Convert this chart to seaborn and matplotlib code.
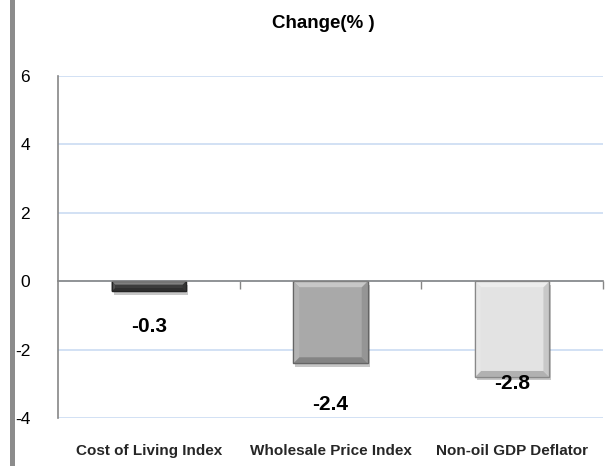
import matplotlib
matplotlib.use("Agg")
import matplotlib.pyplot as plt
import matplotlib.patheffects as pe
from matplotlib.patches import Polygon, Rectangle
from matplotlib.colors import to_rgb
import pandas as pd
import seaborn as sns

# Price indicators and their percentage change
categories = ["Cost of Living Index", "Wholesale Price Index", "Non-oil GDP Deflator"]
changes = [-0.3, -2.4, -2.8]
value_labels = ["-0.3", "-2.4", "-2.8"]
bar_colors = ["#3c3c3c", "#a9a9a9", "#e3e3e3"]
y_ticks = [-4, -2, 0, 2, 4, 6]

# Vertical distance (points) from each bar end to its value label
label_gap_pt = [25, 29.5, 5]

sns.set_theme(style="white")
plt.rcParams["font.family"] = ["Liberation Sans", "DejaVu Sans"]

fig = plt.figure(figsize=(6.05, 4.66), dpi=100)
fig.patch.set_facecolor("white")
ax = fig.add_axes([58 / 605, 1 - 418 / 466, 545 / 605, 342 / 466])

df = pd.DataFrame({"category": categories, "change": changes})
sns.barplot(data=df, x="category", y="change", hue="category",
            palette=bar_colors, width=0.41, legend=False, ax=ax,
            saturation=1, zorder=3)

ax.set_xlim(-0.5, len(categories) - 0.5)
ax.set_ylim(-4, 6)
ax.set_xlabel("")
ax.set_ylabel("")

# light blue horizontal gridlines
ax.set_yticks(y_ticks)
ax.set_yticklabels([str(t) for t in y_ticks], fontsize=12.5, color="black")
ax.yaxis.grid(True, color="#c6d9f1", lw=1.1, zorder=0)
ax.xaxis.grid(False)
ax.tick_params(axis="y", which="major", direction="out", length=7, width=1,
               color="#868686", pad=13, labelsize=12.5)

for side in ["top", "right"]:
    ax.spines[side].set_visible(False)
ax.spines["left"].set_color("#868686")
ax.spines["left"].set_linewidth(1.2)

# category axis drawn through zero with tick marks between categories
ax.spines["bottom"].set_position(("data", 0))
ax.spines["bottom"].set_color("#868686")
ax.spines["bottom"].set_linewidth(1.2)
ax.spines["bottom"].set_zorder(4)
ax.set_xticks([i + 0.5 for i in range(len(categories))], minor=True)
ax.set_xticks(range(len(categories)))
ax.set_xticklabels([])
ax.tick_params(axis="x", which="major", length=0)
ax.tick_params(axis="x", which="minor", direction="out", length=6, width=1,
               color="#868686", bottom=True)

# category names below the plotting area
sec = ax.secondary_xaxis("bottom")
sec.set_xticks(range(len(categories)))
sec.set_xticklabels(categories, fontsize=11, fontweight="bold")
sec.tick_params(length=0, pad=19)
sec.spines["bottom"].set_visible(False)


def shade(color, amount):
    r, g, b = to_rgb(color)
    if amount >= 0:
        return (r + (1 - r) * amount, g + (1 - g) * amount, b + (1 - b) * amount)
    k = 1 + amount
    return (r * k, g * k, b * k)


# bevelled bars with a soft drop shadow
fig.canvas.draw()
to_px = ax.transData
to_data = ax.transData.inverted()
for patch, color in zip(ax.patches, bar_colors):
    patch.set_edgecolor(shade(color, -0.35))
    patch.set_linewidth(0.9)
    patch.set_path_effects([
        pe.SimplePatchShadow(offset=(1.5, -2.5), shadow_rgbFace="black", alpha=0.22),
        pe.Normal(),
    ])
    bb = patch.get_bbox()
    x0, x1 = sorted([bb.x0, bb.x1])
    y0, y1 = sorted([bb.y0, bb.y1])
    (px0, py0), (px1, py1) = to_px.transform([(x0, y0), (x1, y1)])
    b = min(6.0, (py1 - py0) / 3.0, (px1 - px0) / 6.0)
    outer = [(px0, py0), (px1, py0), (px1, py1), (px0, py1)]
    inner = [(px0 + b, py0 + b), (px1 - b, py0 + b), (px1 - b, py1 - b), (px0 + b, py1 - b)]
    faces = {
        "bottom": ([outer[0], outer[1], inner[1], inner[0]], -0.22),
        "right": ([outer[1], outer[2], inner[2], inner[1]], -0.12),
        "top": ([outer[2], outer[3], inner[3], inner[2]], 0.35),
        "left": ([outer[3], outer[0], inner[0], inner[3]], 0.12),
    }
    for pts, amt in faces.values():
        poly = Polygon(to_data.transform(pts), closed=True,
                       facecolor=shade(color, amt), edgecolor="none", zorder=3.5)
        ax.add_patch(poly)
    frame = Rectangle((x0, y0), x1 - x0, y1 - y0, facecolor="none",
                      edgecolor=shade(color, -0.4), lw=0.9, zorder=3.6)
    ax.add_patch(frame)

# value labels under each bar
for i, (v, txt, gap) in enumerate(zip(changes, value_labels, label_gap_pt)):
    ax.annotate(txt, xy=(i, v), xytext=(0, -gap), textcoords="offset points",
                ha="center", va="center", fontsize=15, fontweight="bold",
                color="black", zorder=5)

fig.text(323 / 605, 1 - 23 / 466, "Change(% )", ha="center", va="center",
         fontsize=13.5, fontweight="bold", color="black")

# grey frame line on the left edge
fig.add_artist(Rectangle((10 / 605, 0), 5 / 605, 1, transform=fig.transFigure,
                         facecolor="#8c8c8c", edgecolor="none"))

fig.savefig("out.png", dpi=100, facecolor="white")
